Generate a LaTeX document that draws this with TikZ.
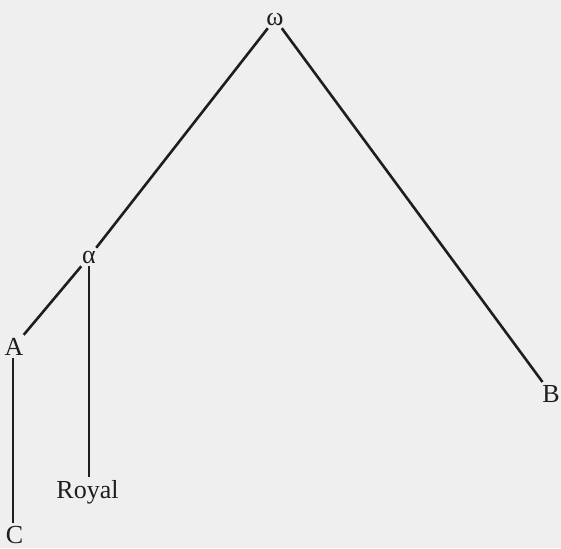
\documentclass[tikz,border=0pt]{standalone}
\usepackage{fontspec}
\setmainfont{Liberation Serif}
\definecolor{bgc}{RGB}{239,239,239}
\definecolor{ink}{RGB}{30,30,30}
\begin{document}
\begin{tikzpicture}[x=0.5pt,y=-0.5pt,
  lbl/.style={anchor=base,inner sep=0pt,outer sep=1.5pt,text=ink,font=\fontsize{13pt}{15pt}\selectfont},
  edge/.style={draw=ink,line width=1.3pt}]
\fill[bgc] (0,0) rectangle (561,548);
\useasboundingbox (0,0) rectangle (561,548);
\node[lbl] (w) at (275,25) {ω};
\node[lbl] (al) at (89,263) {α};
\node[lbl] (A) at (14,355) {A};
\node[lbl] (B) at (551,402) {B};
\node[lbl] (C) at (14.5,543) {C};
\node[lbl] (R) at (87.5,498) {Royal};
\draw[edge] (w) -- (al);
\draw[edge] (w) -- (B);
\draw[edge] (al) -- (A);
\path (A.south) ++(-1,0) coordinate (a1);
\draw[edge] (a1) -- (C.north -| a1);
\draw[edge] (al.south) -- (R.north -| al.south);
\end{tikzpicture}
\end{document}
